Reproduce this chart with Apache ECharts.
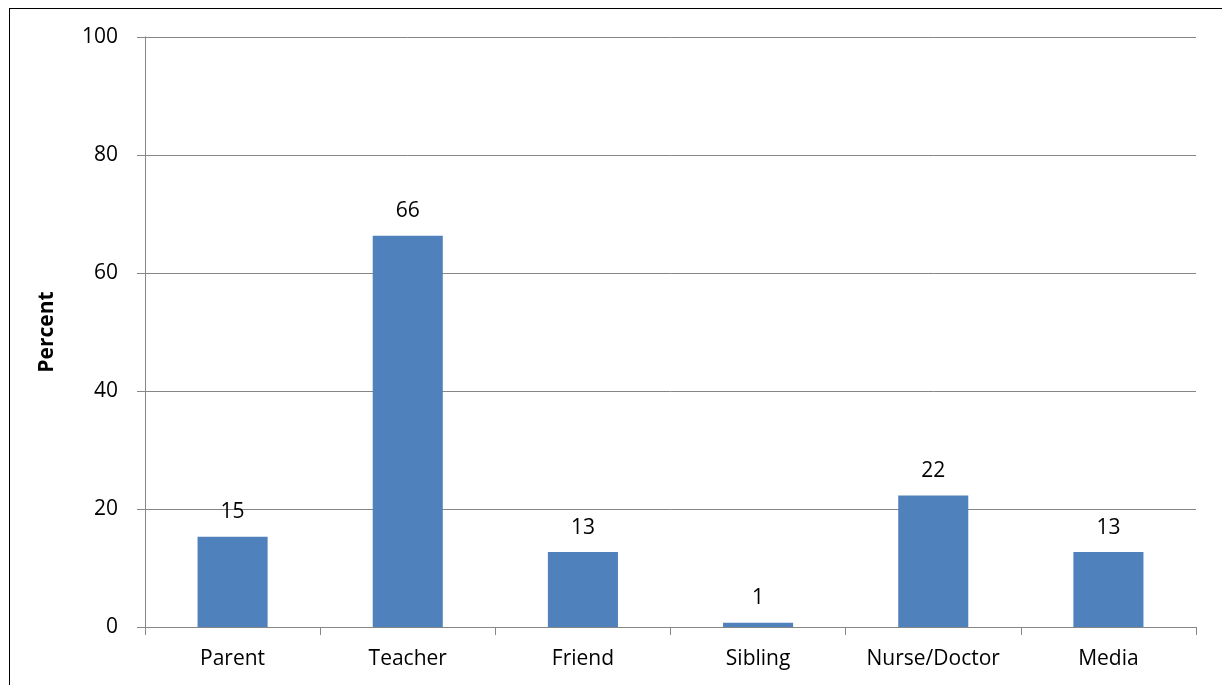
<!DOCTYPE html>
<html>
<head>
<meta charset="utf-8">
<script src="https://cdn.jsdelivr.net/npm/echarts@6/dist/echarts.min.js"></script>
<style>
  html, body { margin: 0; padding: 0; background: #fff; }
  #main { width: 1222px; height: 685px; }
  /* the frame round the chart, cut off at right and bottom */
  #frame {
    position: absolute; left: 9px; top: 8px; width: 1300px; height: 800px;
    border-left: 1px solid #000; border-top: 1px solid #000;
    pointer-events: none;
  }
</style>
</head>
<body>
<div id="main"></div>
<div id="frame"></div>
<script>
// 数据
var categories = ['Parent', 'Teacher', 'Friend', 'Sibling', 'Nurse/Doctor', 'Media'];
var percentValues = [15.3, 66.3, 12.7, 0.7, 22.3, 12.7];
var yTicks = { min: 0, max: 100, interval: 20 };

var font = '"Open Sans", "Liberation Sans", sans-serif';
var axisGray = '#868686';

var myChart = echarts.init(document.getElementById('main'));
var option = {
  animation: false,
  grid: {
    left: 145,
    right: 26,
    top: 37,
    bottom: 58
  },
  xAxis: {
    type: 'category',
    data: categories,
    axisLine: { lineStyle: { color: axisGray, width: 1 } },
    axisTick: { show: true, length: 8, interval: 0, alignWithLabel: false, lineStyle: { color: axisGray } },
    axisLabel: { color: '#000', fontFamily: font, fontSize: 21, margin: 22, interval: 0 }
  },
  yAxis: {
    type: 'value',
    min: yTicks.min,
    max: yTicks.max,
    interval: yTicks.interval,
    name: 'Percent',
    nameLocation: 'middle',
    nameGap: 87,
    nameTextStyle: { color: '#000', fontFamily: font, fontSize: 21, fontWeight: 'bold' },
    axisLine: { show: true, lineStyle: { color: axisGray, width: 1 } },
    axisTick: { show: true, length: 8, lineStyle: { color: axisGray } },
    axisLabel: { color: '#000', fontFamily: font, fontSize: 21, margin: 27 },
    splitLine: { show: true, lineStyle: { color: axisGray, width: 1 } }
  },
  series: [
    {
      name: 'Percent',
      type: 'bar',
      data: percentValues,
      barWidth: '40%',
      itemStyle: { color: '#4F81BD' },
      label: {
        show: true,
        position: 'top',
        distance: 14,
        color: '#000',
        fontFamily: font,
        fontSize: 21,
        formatter: function (p) { return Math.round(p.value); }
      }
    }
  ]
};
myChart.setOption(option);
</script>
</body>
</html>
